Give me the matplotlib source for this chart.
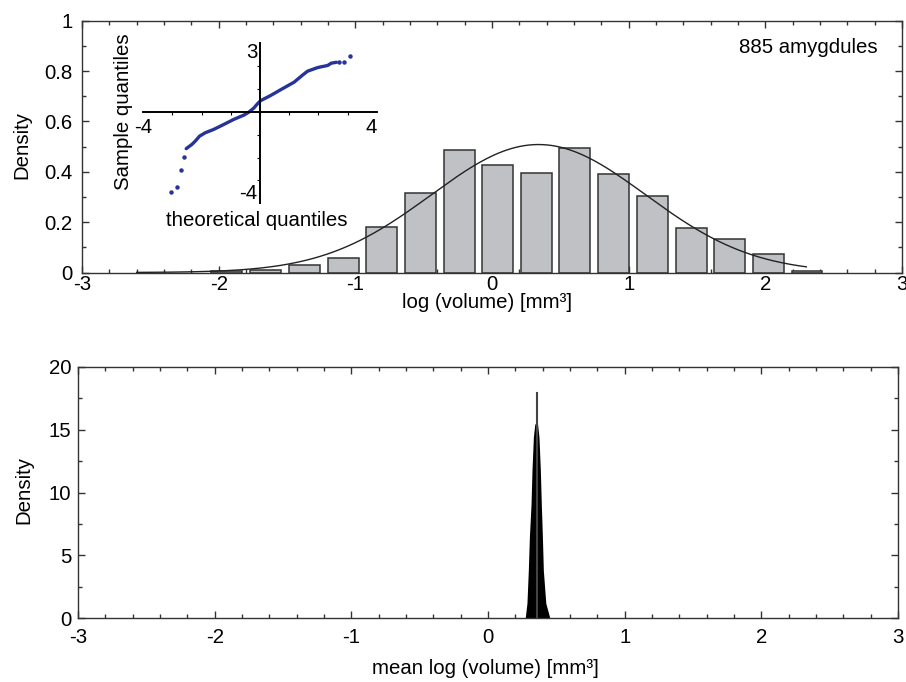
import matplotlib.pyplot as plt
import numpy as np
from matplotlib.ticker import MultipleLocator, FuncFormatter

plt.rcParams['font.family'] = ['Liberation Sans', 'DejaVu Sans']
plt.rcParams['font.size'] = 14.7
plt.rcParams['axes.linewidth'] = 1.0

W, H = 906, 682

# ---- data: histogram of log volume (top panel) ----
bin_centers = [-1.94, -1.66, -1.37, -1.09, -0.81, -0.52, -0.24, 0.04,
               0.325, 0.606, 0.888, 1.173, 1.459, 1.737, 2.022, 2.305]
bin_density = [0.004, 0.008, 0.028, 0.059, 0.18, 0.315, 0.488, 0.428,
               0.396, 0.496, 0.392, 0.303, 0.175, 0.133, 0.073, 0.004]
bin_step = 0.283
fit_mean = 0.34
fit_sd = 0.785
fit_lo, fit_hi = -2.6, 2.3
n_amygdules = 885

# ---- data: normal QQ plot (inset) ----
qq_theo = [-2.53, -2.33, -2.22, -2.07, -1.87, -1.59, -1.24, -0.90, -0.55,
           -0.38, -0.21, -0.09, 0.02, 0.37, 0.71, 1.17, 1.45, 1.63, 1.98,
           2.32, 2.44, 2.62]
qq_samp = [-1.61, -1.42, -1.28, -1.06, -0.91, -0.77, -0.55, -0.33, -0.14,
           -0.01, 0.17, 0.35, 0.49, 0.72, 0.97, 1.30, 1.60, 1.78, 1.94,
           2.03, 2.13, 2.17]
qq_tail_theo = [-3.05, -2.83, -2.70, -2.60, 2.72, 2.87, 3.07]
qq_tail_samp = [-3.52, -3.30, -2.54, -1.97, 2.17, 2.17, 2.46]

# ---- data: density of the mean (bottom panel) ----
mean_x = [0.272, 0.285, 0.295, 0.303, 0.315, 0.322, 0.332, 0.342, 0.352,
          0.363, 0.373, 0.383, 0.390, 0.398, 0.405, 0.423, 0.453]
mean_dens = [0, 1.2, 3.8, 6.5, 9.1, 11.8, 14.4, 15.4, 15.6,
             15.4, 14.4, 11.8, 9.1, 6.5, 3.8, 1.2, 0]
mean_peak_x = 0.356
mean_peak_y = 17.9


def box(x0, y0, x1, y1):
    # pixel box (top-left origin) -> figure fraction rect
    return [x0 / W, 1 - y1 / H, (x1 - x0) / W, (y1 - y0) / H]


def fpos(x, y):
    return x / W, 1 - y / H


fig = plt.figure(figsize=(W / 100, H / 100), dpi=100)

ax1 = fig.add_axes(box(82, 20.7, 902, 272.5))
ax2 = fig.add_axes(box(78, 366.7, 898, 618.3))

for ax in (ax1, ax2):
    ax.set_xlim(-3, 3)
    ax.xaxis.set_major_locator(MultipleLocator(1))
    ax.xaxis.set_minor_locator(MultipleLocator(0.2))
    ax.tick_params(which='both', direction='in', top=True, right=True,
                   color='#333333', width=1.0)
    ax.tick_params(which='major', length=5)
    ax.tick_params(which='minor', length=3)
    for sp in ax.spines.values():
        sp.set_color('#333333')
    ax.xaxis.set_major_formatter(FuncFormatter(lambda v, p: f'{v:g}'))
    ax.yaxis.set_major_formatter(FuncFormatter(lambda v, p: f'{v:g}'))

# top panel
ax1.bar(bin_centers, bin_density, width=bin_step * 0.8, color='#bfc1c5',
        edgecolor='#333333', linewidth=1.1, zorder=2)
xf = np.linspace(fit_lo, fit_hi, 300)
yf = np.exp(-0.5 * ((xf - fit_mean) / fit_sd) ** 2) / (fit_sd * np.sqrt(2 * np.pi))
ax1.plot(xf, yf, color='#222222', lw=1.0, zorder=3)
ax1.set_ylim(0, 1)
ax1.yaxis.set_major_locator(MultipleLocator(0.2))
ax1.yaxis.set_minor_locator(MultipleLocator(0.1))
ax1.tick_params(axis='x', pad=2)
ax1.tick_params(axis='y', pad=7)
ax1.text(0.97, 0.895, f'{n_amygdules} amygdules', transform=ax1.transAxes,
         ha='right', va='center')

# bottom panel
ax2.fill_between(mean_x, mean_dens, color='black', lw=0, zorder=2)
ax2.plot([mean_peak_x, mean_peak_x], [0, mean_peak_y], color='#444444',
         lw=1.5, zorder=3)
ax2.set_ylim(0, 20)
ax2.yaxis.set_major_locator(MultipleLocator(5))
ax2.yaxis.set_minor_locator(MultipleLocator(2.5))
ax2.tick_params(axis='x', pad=7)
ax2.tick_params(axis='y', pad=5)

# axis labels
fig.text(*fpos(487, 302), 'log (volume) [mm³]', ha='center', va='center')
fig.text(*fpos(485, 669), 'mean log (volume) [mm³]', ha='center', va='center')
fig.text(*fpos(22, 145), 'Density', rotation=90, ha='center', va='center')
fig.text(*fpos(24, 490), 'Density', rotation=90, ha='center', va='center')

# inset QQ plot
axi = fig.add_axes(box(143.3, 43.3, 376.7, 203.3))
axi.patch.set_visible(False)
axi.set_xlim(-4, 4)
axi.set_ylim(-4, 3)
axi.spines['left'].set_position(('data', 0))
axi.spines['bottom'].set_position(('data', 0))
axi.spines['top'].set_visible(False)
axi.spines['right'].set_visible(False)
for s in ('left', 'bottom'):
    axi.spines[s].set_linewidth(1.4)
    axi.spines[s].set_color('black')
axi.set_xticks(range(-3, 4))
axi.set_yticks(range(-3, 3))
axi.tick_params(direction='out', length=2.5, width=0.8, labelbottom=False,
                labelleft=False)
qq_color = '#26349a'
axi.plot(qq_theo, qq_samp, color=qq_color, lw=2.4, solid_capstyle='round')
axi.plot(qq_tail_theo, qq_tail_samp, ls='none', marker='o', ms=2.2,
         color=qq_color)
axi.text(-4, -0.25, '-4', ha='center', va='top')
axi.text(3.8, -0.25, '4', ha='center', va='top')
axi.text(-0.1, 3, '3', ha='right', va='top')
axi.text(-0.1, -4, '-4', ha='right', va='bottom')
fig.text(*fpos(256.5, 221), 'theoretical quantiles', ha='center', va='center')
fig.text(*fpos(123.5, 112), 'Sample quantiles', rotation=90, ha='center',
         va='center')

fig.savefig('out.png', dpi=100)
